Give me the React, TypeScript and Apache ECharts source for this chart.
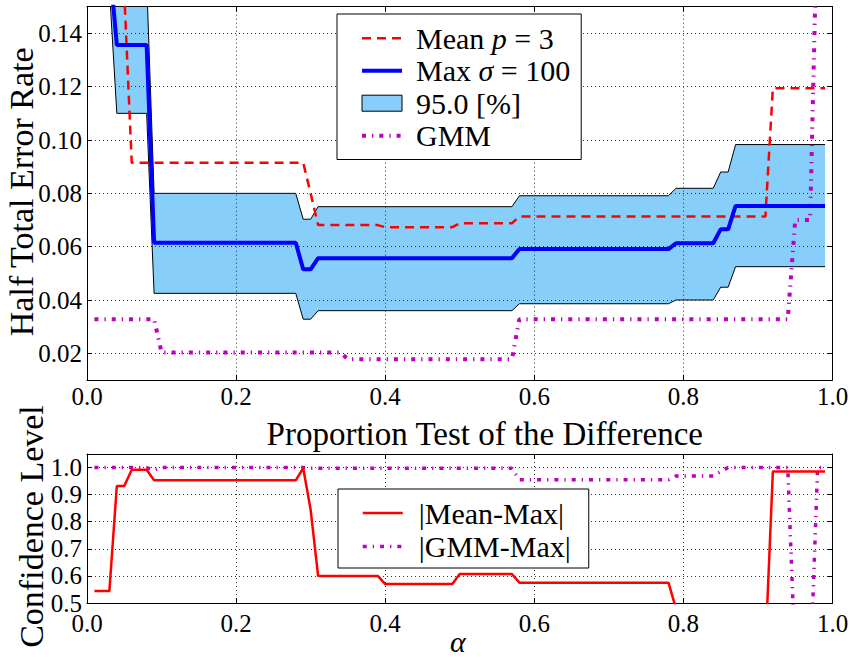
import React, { useEffect, useRef } from 'react';
import * as echarts from 'echarts';

const FONT = 'Liberation Serif, Times New Roman, serif';

// ---------- Top panel: Half Total Error Rate vs alpha ----------
const meanAlpha = [0.01, 0.05, 0.06, 0.29, 0.30, 0.31, 0.39, 0.40, 0.49, 0.50, 0.57, 0.58, 0.91, 0.92, 0.99];
const meanRate = [0.16, 0.155, 0.0915, 0.0915, 0.080, 0.0681, 0.0681, 0.0673, 0.0673, 0.0688, 0.0688, 0.0713, 0.0713, 0.1194, 0.1194];

const maxAlpha = [0.01, 0.03, 0.04, 0.08, 0.09, 0.28, 0.29, 0.30, 0.31, 0.57, 0.58, 0.78, 0.79, 0.84, 0.85, 0.86, 0.87, 0.99];
const maxRate = [0.2, 0.167, 0.1356, 0.1356, 0.0615, 0.0615, 0.0515, 0.0515, 0.0557, 0.0557, 0.0591, 0.0591, 0.0613, 0.0613, 0.0665, 0.0665, 0.0753, 0.0753];

const bandAlpha = [0.01, 0.03, 0.04, 0.08, 0.09, 0.28, 0.29, 0.30, 0.31, 0.57, 0.58, 0.78, 0.79, 0.84, 0.85, 0.86, 0.87, 0.99];
const bandLower = [0.16, 0.157, 0.110, 0.110, 0.0425, 0.0425, 0.0328, 0.0328, 0.036, 0.036, 0.0386, 0.0386, 0.040, 0.040, 0.0448, 0.0448, 0.0525, 0.0525];
const bandUpper = [0.17, 0.17, 0.17, 0.16, 0.080, 0.080, 0.0703, 0.0703, 0.075, 0.075, 0.0791, 0.0791, 0.0819, 0.0819, 0.088, 0.088, 0.0983, 0.0983];

const gmmAlpha = [0.01, 0.09, 0.10, 0.34, 0.35, 0.57, 0.58, 0.94, 0.95, 0.97, 0.98, 0.99];
const gmmRate = [0.0328, 0.0328, 0.0203, 0.0203, 0.0178, 0.0178, 0.0328, 0.0328, 0.070, 0.070, 0.19, 0.2];

const rateTicks = [0.02, 0.04, 0.06, 0.08, 0.10, 0.12, 0.14];

// ---------- Bottom panel: Proportion test confidence ----------
const meanMaxAlpha = [0.01, 0.03, 0.04, 0.05, 0.06, 0.08, 0.09, 0.28, 0.29, 0.30, 0.31, 0.39, 0.40, 0.49, 0.50, 0.57, 0.58, 0.78, 0.79, 0.91, 0.92, 0.99];
const meanMaxConf = [0.544, 0.544, 0.932, 0.932, 0.9915, 0.9915, 0.953, 0.953, 0.998, 0.844, 0.600, 0.600, 0.570, 0.570, 0.607, 0.607, 0.575, 0.575, 0.48, 0.33, 0.985, 0.985];

const gmmMaxAlpha = [0.01, 0.08, 0.09, 0.10, 0.29, 0.30, 0.57, 0.58, 0.78, 0.79, 0.84, 0.85, 0.86, 0.94, 0.95, 0.97, 0.98, 0.99];
const gmmMaxConf = [1.0, 1.0, 0.99, 1.0, 1.0, 0.997, 0.997, 0.955, 0.955, 0.969, 0.969, 0.985, 1.0, 1.0, 0.28, 0.22, 1.0, 1.0];

const confTicks = [0.5, 0.6, 0.7, 0.8, 0.9, 1.0];

const zip = (xs: number[], ys: number[]) => xs.map((x, i) => [x, ys[i]]);

const axisLineStyle = { color: '#000', width: 1 };
const gridLineStyle = { color: '#333', type: [1, 3] as any, width: 1 };
const labelBase = { fontFamily: FONT, fontSize: 25, color: '#000', fontWeight: 'normal' };

const RED = '#FF0000';
const BLUE = '#0000FF';
const MAGENTA = '#BF00BF';
const BAND = '#87CEFA';

const meanLine = { color: RED, width: 2.5, type: [9, 6] };
const maxLine = { color: BLUE, width: 4 };
const gmmLine = { color: MAGENTA, width: 4, type: [4, 6, 1.3, 6], cap: 'butt' };
const gmmDiffLine = { color: MAGENTA, width: 3.5, type: [4, 6, 1.3, 6], cap: 'butt' };
const meanDiffLine = { color: RED, width: 2.5 };

function xAxisDef(gridIndex: number, position: 'top' | 'bottom', extra: any = {}) {
  return {
    gridIndex,
    type: 'value',
    min: 0,
    max: 1,
    interval: 0.2,
    position,
    z: 1.5,
    nameMoveOverlap: false,
    axisLine: { show: true, onZero: false, lineStyle: axisLineStyle },
    axisTick: { show: true, inside: true, length: 5, lineStyle: axisLineStyle },
    axisLabel: position === 'bottom'
      ? { ...labelBase, margin: gridIndex === 0 ? 4 : 8, formatter: (v: number) => v.toFixed(1) }
      : { show: false },
    splitLine: position === 'bottom' ? { show: true, lineStyle: gridLineStyle } : { show: false },
    ...extra,
  };
}

function yAxisDef(gridIndex: number, position: 'left' | 'right', min: number, max: number, ticks: number[], digits: number, extra: any = {}) {
  return {
    gridIndex,
    type: 'value',
    min,
    max,
    splitNumber: 7,
    position,
    z: 1.5,
    nameMoveOverlap: false,
    axisLine: { show: true, onZero: false, lineStyle: axisLineStyle },
    axisTick: { show: true, inside: true, length: 5, lineStyle: axisLineStyle, customValues: ticks },
    axisLabel: position === 'left'
      ? { ...labelBase, margin: 5, customValues: ticks, formatter: (v: number) => v.toFixed(digits) }
      : { show: false },
    splitLine: position === 'left' ? { show: true, lineStyle: gridLineStyle } : { show: false },
    ...extra,
  };
}

const hideSymbol = { opacity: 0 };

const option: any = {
  animation: false,
  backgroundColor: '#fff',
  textStyle: { fontFamily: FONT },
  grid: [
    { left: 87, top: 6.7, width: 745.5, height: 373.3, containLabel: false, outerBoundsMode: 'none' },
    { left: 87, top: 454, width: 745.5, height: 149, containLabel: false, outerBoundsMode: 'none' },
  ],
  xAxis: [
    xAxisDef(0, 'bottom'),
    xAxisDef(0, 'top'),
    xAxisDef(1, 'bottom', {
      name: 'α',
      nameLocation: 'middle',
      nameGap: 28,
      nameTextStyle: { fontFamily: FONT, fontSize: 30, lineHeight: 20, fontStyle: 'italic', color: '#000', padding: [0, 4, 0, 0] },
    }),
    xAxisDef(1, 'top', {
      name: 'Proportion Test of the Difference',
      nameLocation: 'middle',
      nameGap: 4,
      nameTextStyle: { fontFamily: FONT, fontSize: 33, color: '#000', padding: [0, 0, 0, 50] },
    }),
  ],
  yAxis: [
    yAxisDef(0, 'left', 0.01, 0.15, rateTicks, 2, {
      name: 'Half Total Error Rate',
      nameLocation: 'middle',
      nameRotate: 90,
      nameGap: 49,
      nameTextStyle: { fontFamily: FONT, fontSize: 34, color: '#000', padding: [0, 0, 0, 3] },
    }),
    yAxisDef(0, 'right', 0.01, 0.15, rateTicks, 2),
    yAxisDef(1, 'left', 0.5, 1.05, confTicks, 1, {
      name: 'Confidence Level',
      nameLocation: 'middle',
      nameRotate: 90,
      nameGap: 39,
      nameTextStyle: { fontFamily: FONT, fontSize: 34, color: '#000', padding: [0, 0, 0, 4] },
    }),
    yAxisDef(1, 'right', 0.5, 1.05, confTicks, 1),
  ],
  legend: [
    {
      orient: 'vertical',
      left: 337,
      top: 14,
      padding: [9.2, 11, 8.8, 23],
      itemGap: 2.5,
      itemWidth: 40,
      itemHeight: 16,
      borderColor: '#000',
      borderWidth: 1,
      borderRadius: 0,
      backgroundColor: '#fff',
      selectedMode: false,
      z: 10,
      data: [
        { name: 'Mean', itemStyle: hideSymbol, lineStyle: meanLine },
        { name: 'Max', itemStyle: hideSymbol, lineStyle: maxLine },
        { name: '95.0 [%]', icon: 'rect', itemStyle: { color: BAND, borderColor: '#000', borderWidth: 1, opacity: 1 } },
        { name: 'GMM', itemStyle: hideSymbol, lineStyle: gmmLine },
      ],
      formatter: (name: string) => {
        if (name === 'Mean') return 'Mean {it|p} = 3';
        if (name === 'Max') return 'Max {it|σ} = 100';
        return name;
      },
      textStyle: {
        fontFamily: FONT,
        fontSize: 30,
        color: '#000',
        padding: [0, 0, 0, 9],
        rich: { it: { fontFamily: FONT, fontSize: 30, fontStyle: 'italic', color: '#000' } },
      },
    },
    {
      orient: 'vertical',
      left: 338,
      top: 489,
      padding: [9, 18, 6.6, 23],
      itemGap: 3.4,
      itemWidth: 40,
      itemHeight: 16,
      borderColor: '#000',
      borderWidth: 1,
      borderRadius: 0,
      backgroundColor: '#fff',
      selectedMode: false,
      z: 10,
      data: [
        { name: '|Mean-Max|', itemStyle: hideSymbol, lineStyle: meanDiffLine },
        { name: '|GMM-Max|', itemStyle: hideSymbol, lineStyle: gmmDiffLine },
      ],
      textStyle: { fontFamily: FONT, fontSize: 30, color: '#000', padding: [0, 0, 0, 11] },
    },
  ],
  series: [
    {
      type: 'custom',
      name: '95.0 [%]',
      xAxisIndex: 0,
      yAxisIndex: 0,
      clip: true,
      silent: true,
      z: 1,
      itemStyle: { color: BAND },
      data: [[0.5, 0.06]],
      renderItem: (params: any, api: any) => {
        const pts: number[][] = [];
        for (let i = 0; i < bandAlpha.length; i++) pts.push(api.coord([bandAlpha[i], bandUpper[i]]));
        for (let i = bandAlpha.length - 1; i >= 0; i--) pts.push(api.coord([bandAlpha[i], bandLower[i]]));
        const cs = params.coordSys;
        return {
          type: 'polygon',
          shape: { points: pts },
          style: { fill: BAND, stroke: 'none' },
          clipPath: { type: 'rect', shape: { x: cs.x, y: cs.y, width: cs.width, height: cs.height } },
        };
      },
    },
    {
      type: 'line',
      name: 'band-lower',
      xAxisIndex: 0,
      yAxisIndex: 0,
      data: zip(bandAlpha, bandLower),
      symbol: 'none',
      lineStyle: { color: '#000', width: 1 },
      itemStyle: { color: '#000' },
      z: 1.2,
      silent: true,
    },
    {
      type: 'line',
      name: 'band-upper',
      xAxisIndex: 0,
      yAxisIndex: 0,
      data: zip(bandAlpha, bandUpper),
      symbol: 'none',
      lineStyle: { color: '#000', width: 1 },
      itemStyle: { color: '#000' },
      z: 1.2,
      silent: true,
    },
    {
      type: 'line',
      name: 'GMM',
      xAxisIndex: 0,
      yAxisIndex: 0,
      data: zip(gmmAlpha, gmmRate),
      symbol: 'none',
      lineStyle: gmmLine,
      itemStyle: { color: MAGENTA },
      z: 2,
    },
    {
      type: 'line',
      name: 'Mean',
      xAxisIndex: 0,
      yAxisIndex: 0,
      data: zip(meanAlpha, meanRate),
      symbol: 'none',
      lineStyle: meanLine,
      itemStyle: { color: RED },
      z: 3,
    },
    {
      type: 'line',
      name: 'Max',
      xAxisIndex: 0,
      yAxisIndex: 0,
      data: zip(maxAlpha, maxRate),
      symbol: 'none',
      lineStyle: maxLine,
      itemStyle: { color: BLUE },
      z: 3,
    },
    {
      type: 'line',
      name: '|Mean-Max|',
      xAxisIndex: 2,
      yAxisIndex: 2,
      data: zip(meanMaxAlpha, meanMaxConf),
      symbol: 'none',
      lineStyle: meanDiffLine,
      itemStyle: { color: RED },
      z: 3,
    },
    {
      type: 'line',
      name: '|GMM-Max|',
      xAxisIndex: 2,
      yAxisIndex: 2,
      data: zip(gmmMaxAlpha, gmmMaxConf),
      symbol: 'none',
      lineStyle: gmmDiffLine,
      itemStyle: { color: MAGENTA },
      z: 2,
    },
  ],
};

export default function App() {
  const ref = useRef<HTMLDivElement>(null);
  useEffect(() => {
    if (!ref.current) return;
    const chart = echarts.init(ref.current, null, { renderer: 'svg' });
    chart.setOption(option);
    return () => chart.dispose();
  }, []);
  return (
    <div
      ref={ref}
      style={{ position: 'fixed', left: 0, top: 0, width: 850, height: 658, background: '#fff' }}
    />
  );
}
